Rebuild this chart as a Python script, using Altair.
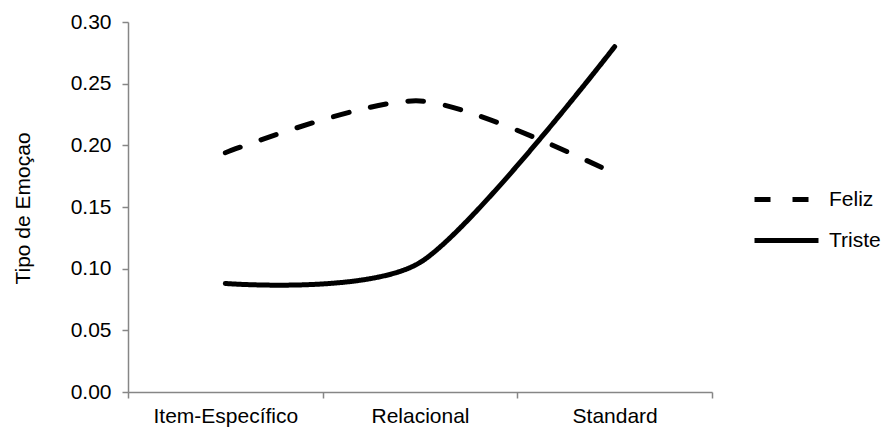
import altair as alt
import pandas as pd

# Categories on the x axis and the two emotion series
categorias = ["Item-Específico", "Relacional", "Standard"]
series = ["Feliz", "Triste"]
feliz = [0.194, 0.236, 0.177]
triste = [0.088, 0.105, 0.280]

rows = []
for nome, valores in zip(series, [feliz, triste]):
    for cat, v in zip(categorias, valores):
        rows.append({"Condição": cat, "Emoção": nome, "Valor": v})
df = pd.DataFrame(rows)

FONT = "Liberation Sans"
FS = 21

linhas = alt.Chart(df).mark_line(
    interpolate="cardinal",
    tension=0.2,
    strokeWidth=5,
    strokeCap="round",
    color="black",
).encode(
    x=alt.X(
        "Condição:N",
        sort=categorias,
        bandPosition=0.5,
        scale=alt.Scale(type="band", paddingInner=0, paddingOuter=0),
        axis=alt.Axis(
            title=None,
            labelAngle=0,
            tickBand="extent",
            tickSize=6,
            labelPadding=7,
            labelFontSize=FS,
            labelFont=FONT,
            labelColor="black",
            domainColor="#868686",
            tickColor="#868686",
            domainWidth=1.5,
            tickWidth=1.5,
        ),
    ),
    y=alt.Y(
        "Valor:Q",
        scale=alt.Scale(domain=[0, 0.30], nice=False, zero=True),
        axis=alt.Axis(
            title="Tipo de Emoçao",
            values=[0, 0.05, 0.10, 0.15, 0.20, 0.25, 0.30],
            format=".2f",
            grid=False,
            tickSize=6,
            labelPadding=11,
            labelFontSize=FS,
            labelFont=FONT,
            labelColor="black",
            titleFont=FONT,
            titleFontSize=FS,
            titleFontWeight="normal",
            titleColor="black",
            titleAngle=-90,
            titleBaseline="bottom",
            titleX=-95,
            titleY=186,
            domainColor="#868686",
            tickColor="#868686",
            domainWidth=1.5,
            tickWidth=1.5,
        ),
    ),
    strokeDash=alt.StrokeDash(
        "Emoção:N",
        scale=alt.Scale(domain=series, range=[[16, 22], [1, 0]]),
        legend=alt.Legend(
            title=None,
            orient="none",
            legendX=645,
            legendY=164,
            padding=0,
            symbolType="M-3,0H3",
            symbolSize=455,
            symbolStrokeWidth=5,
            symbolStrokeColor="black",
            symbolFillColor="transparent",
            labelFontSize=FS,
            labelFont=FONT,
            labelColor="black",
            labelOffset=29,
            rowPadding=17,
        ),
    ),
)

chart = linhas.properties(
    width=584,
    height=370,
    autosize=alt.AutoSizeParams(type="none"),
    padding={"left": 128, "top": 22, "right": 174, "bottom": 37},
    background="white",
).configure_view(stroke=None)

chart.save("out.html", embed_options={"renderer": "svg", "actions": False})
